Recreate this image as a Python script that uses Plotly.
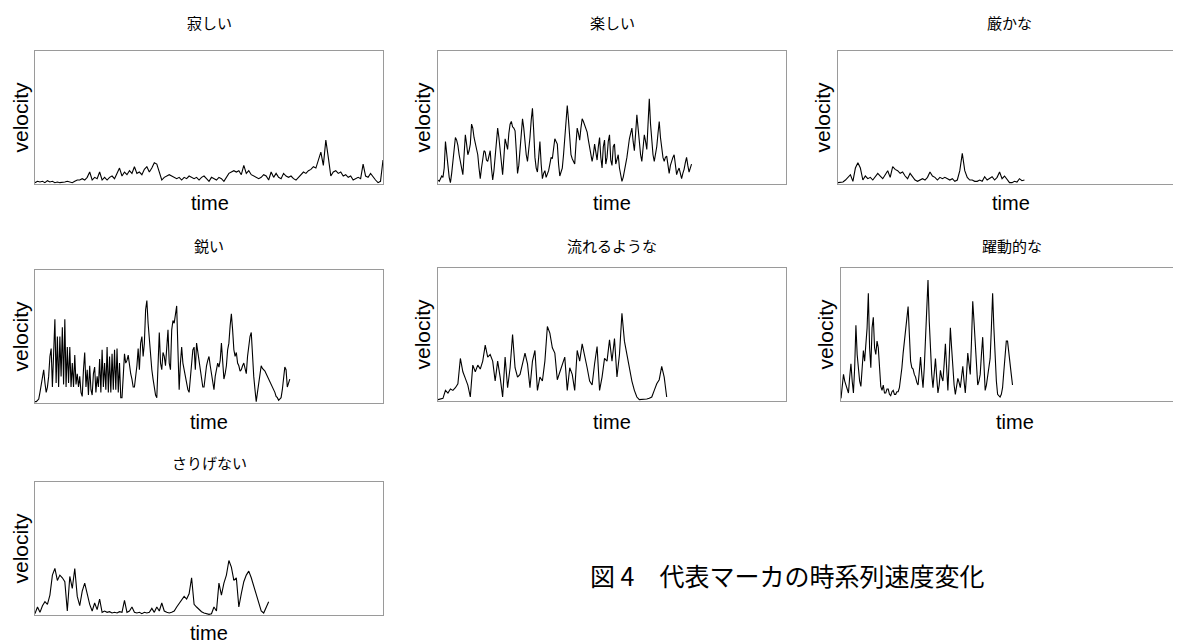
import plotly.graph_objects as go

# page offset of the plot inside the browser window (body margin)
OFF = 8
W, H = 1181 - OFF, 643 - OFF

titles = ["寂しい", "楽しい", "厳かな", "鋭い", "流れるような", "躍動的な", "さりげない"]
x_label = "time"
y_label = "velocity"
caption = "図 4　代表マーカの時系列速度変化"

# sampling step (time units) of each series
steps = [1, 0.5, 1, 0.5, 1, 0.5, 1]

v_sabishii = [1, 2, 1.5, 2, 1, 2.5, 1.5, 2, 1, 1.5, 1, 1, 1.5, 2, 1.5, 1, 2, 3,
              3, 4, 3, 5, 9, 3, 5, 4, 9, 3, 5, 3, 5,
              6, 4, 8, 12, 6, 9, 7, 10, 8, 13, 8, 9, 7,
              11, 13, 9, 12, 16, 15, 8, 3,
              5, 6, 7, 6, 5, 4, 5, 3, 5, 4, 6, 5, 4, 5, 3, 5, 6, 4, 2, 5, 4, 3, 5, 4, 2, 5,
              8, 9, 10, 9, 10, 7, 14, 8, 10, 7,
              6, 5, 4, 5, 7, 6, 3, 9, 5, 8, 5, 4, 8, 6, 5, 6, 4, 3, 5,
              7, 9, 8, 10, 11, 13, 12, 18, 24, 14, 33, 20, 6,
              9, 10, 8, 9, 6, 7, 5, 6, 3, 4, 5, 4, 15, 6, 5, 8, 5, 3, 1, 2, 18]

v_tanoshii = [3, 2, 4, 6, 5, 12, 32, 25, 14, 5, 1, 8, 18, 28, 35, 33, 29, 22, 18, 12,
              7, 20, 37, 30, 22, 25, 30, 45, 42, 35, 30, 26, 22, 12, 4, 12, 20, 25, 24, 18,
              17, 22, 25, 12, 3, 10, 20, 35, 42, 35, 25, 15, 7, 20, 34, 30, 26, 38, 45, 47,
              43, 42, 40, 25, 8, 14, 25, 40, 49, 42, 30, 22, 17, 25, 35, 48, 57, 40, 20, 12,
              9, 20, 32, 15, 4, 8, 10, 5, 7, 10, 15, 20, 19, 25, 34, 32, 30, 15, 6, 9,
              12, 22, 35, 50, 59, 48, 30, 22, 19, 17, 15, 30, 42, 38, 33, 42, 49, 47, 44, 42,
              39, 33, 28, 22, 17, 22, 30, 24, 18, 28, 35, 20, 12, 28, 33, 15, 20, 32, 37, 18,
              14, 28, 30, 15, 18, 22, 12, 6, 2, 5, 9, 15, 20, 28, 34, 38, 42, 32, 25, 38,
              52, 42, 30, 22, 17, 28, 37, 32, 26, 45, 64, 45, 30, 22, 17, 22, 28, 38, 47, 35,
              25, 20, 17, 20, 21, 14, 8, 14, 18, 20, 22, 14, 7, 10, 12, 8, 4, 8, 11, 16,
              20, 14, 9, 12, 15]

v_ogosoka = [1, 1, 1.5, 3, 5, 7, 2, 12, 16, 12, 3, 6, 4, 5, 3, 6, 8, 6, 4, 7,
             10, 5, 13, 11, 10, 8, 9, 6, 4, 8, 5, 3, 2, 3, 4, 3, 5, 9, 6, 5,
             3, 5, 4, 5, 4, 3, 4, 2, 3, 10, 23, 10, 5, 3, 3, 2, 2, 3, 2, 5.5,
             3, 4, 5.5, 3, 5, 9, 4, 6, 3, 1, 1, 2, 1.5, 4, 2.5, 3]

v_surudoi = [1, 1, 2, 3, 8, 14, 20, 25, 15, 8, 12, 20, 35, 41, 12, 45, 63, 15, 50, 12,
             50, 20, 57, 14, 63, 12, 42, 15, 42, 12, 30, 12, 36, 14, 22, 12, 20, 8, 5, 25,
             38, 12, 25, 6, 28, 10, 6, 22, 27, 8, 20, 12, 33, 8, 40, 12, 30, 10, 42, 8,
             35, 8, 37, 10, 40, 10, 41, 8, 30, 4, 4, 20, 37, 30, 32, 36, 28, 22, 18, 12,
             12, 20, 28, 41, 25, 45, 50, 35, 45, 70, 77, 60, 47, 35, 25, 18, 12, 6, 4, 30,
             53, 30, 25, 38, 35, 28, 45, 55, 30, 25, 55, 62, 60, 66, 73, 40, 10, 30, 42, 30,
             25, 18, 15, 10, 8, 20, 35, 40, 42, 25, 45, 38, 30, 22, 18, 12, 12, 22, 28, 32,
             35, 28, 22, 15, 10, 20, 25, 30, 27, 32, 45, 30, 18, 22, 28, 40, 45, 58, 67, 55,
             40, 35, 38, 30, 28, 24, 25, 28, 30, 26, 22, 35, 45, 50, 53, 35, 20, 10, 1, 8,
             15, 22, 28, 26, 25, 24, 22, 20, 18, 16, 15, 12, 10, 8, 5, 4, 2, 3, 4, 10,
             20, 27, 25, 12, 15, 18]

v_nagareru = [1, 1.5, 2, 8, 6, 9, 8, 10, 13, 32, 22, 17, 12, 3, 27, 22, 27, 24, 30, 42,
              33, 35, 30, 15, 30, 18, 3, 33, 10, 25, 50, 25, 18, 20, 27, 36, 28, 10, 30, 38,
              8, 18, 15, 30, 56, 51, 40, 36, 16, 22, 28, 33, 8, 25, 20, 8, 38, 30, 43, 35,
              25, 15, 12, 28, 41, 8, 18, 32, 30, 46, 30, 47, 18, 35, 66, 45, 35, 24, 15, 8,
              3, 1, 1, 1, 1.5, 2, 3, 8, 13, 16, 26, 18, 3]

v_yakudou = [2, 10, 20, 15, 12, 8, 6, 18, 28, 15, 6, 25, 57, 35, 23, 15, 11, 25, 38, 30,
             43, 55, 81, 40, 25, 55, 63, 40, 35, 45, 40, 25, 11, 8, 12, 6, 6, 9, 9, 5,
             4, 7, 8, 5, 5, 7, 7, 10, 16, 25, 36, 45, 55, 65, 71, 50, 30, 25, 24, 20,
             18, 14, 12, 22, 33, 20, 10, 25, 48, 70, 91, 60, 35, 20, 10, 20, 32, 18, 6, 12,
             23, 18, 15, 28, 43, 25, 8, 30, 55, 40, 25, 12, 5, 10, 17, 14, 10, 18, 26, 15,
             6, 20, 36, 28, 20, 45, 75, 60, 40, 25, 12, 15, 20, 35, 48, 28, 8, 12, 20, 28,
             32, 55, 81, 55, 30, 15, 5, 4, 3, 5, 10, 22, 35, 45, 45, 38, 28, 20, 12]

v_sarigenai = [1, 6, 2, 7, 10, 8, 15, 30, 35, 26, 30, 28, 25, 3, 29, 20, 35, 14, 7, 18,
               24, 15, 8, 3, 9, 4, 12, 2, 3, 2, 2.5, 1.5, 2, 1.5, 2.5, 2, 11, 2, 3, 6,
               2, 1.5, 2, 1, 2, 1.5, 2, 5, 2, 6, 3, 9, 3, 2, 1.5, 2, 3, 6, 9, 11,
               14, 12, 16, 28, 8, 6, 4, 2.5, 1.5, 1, 0.5, 1, 6, 3, 24, 15, 24, 30, 41, 36,
               26, 28, 6, 16, 25, 30, 33, 28, 22, 15, 9, 3, 1.5, 6, 10]

series = [v_sabishii, v_tanoshii, v_ogosoka, v_surudoi, v_nagareru, v_yakudou, v_sarigenai]

# panel boxes in window pixels: (left, top, right, bottom)
boxes = [
    (35, 51, 383, 184), (438, 51, 786, 184), (838, 51, 1181, 184),
    (35, 270, 383, 403), (438, 268, 786, 401), (841, 268, 1181, 401),
    (35, 482, 383, 615),
]
clipped = [False, False, True, False, False, True, False]
unit_px = 348 / 140.0
title_pos = [(209, 22), (612, 22), (1009, 22), (209, 245), (612, 245), (1012, 245), (209, 462)]
time_pos = [(210, 203), (612, 203), (1011, 203), (209, 422), (612, 422), (1015, 422), (209, 633)]
vel_x = [20, 422, 822, 20, 422, 825, 20]


def px(v):
    return (v - OFF) / W


def py(v):
    return 1 - (v - OFF) / H


fig = go.Figure()
layout = dict(width=W, height=H, margin=dict(l=0, r=0, t=0, b=0),
              paper_bgcolor="white", plot_bgcolor="white", showlegend=False)
annotations = []

for i, (vals, box) in enumerate(zip(series, boxes)):
    n = i + 1
    xa = "x" if n == 1 else f"x{n}"
    ya = "y" if n == 1 else f"y{n}"
    fig.add_trace(go.Scatter(x=[k * steps[i] for k in range(len(vals))], y=vals, mode="lines",
                             line=dict(color="black", width=1.1),
                             xaxis=xa, yaxis=ya, hoverinfo="skip"))
    l, t, r, b = box
    xr = (r - l) / unit_px
    layout["xaxis" if n == 1 else f"xaxis{n}"] = dict(
        domain=[max(px(l), 0), min(px(r), 1)], range=[0, xr], anchor=ya,
        showticklabels=False, ticks="", showgrid=False, zeroline=False,
        showline=True, linecolor="#9a9a9a", linewidth=1, mirror=True, fixedrange=True)
    layout["yaxis" if n == 1 else f"yaxis{n}"] = dict(
        domain=[py(b), py(t)], range=[0, 100], anchor=xa,
        showticklabels=False, ticks="", showgrid=False, zeroline=False,
        showline=True, linecolor="#9a9a9a", linewidth=1,
        mirror=(not clipped[i]), fixedrange=True)
    tx, ty = title_pos[i]
    annotations.append(dict(text=titles[i], x=px(tx), y=py(ty), xref="paper", yref="paper",
                            showarrow=False, xanchor="center", yanchor="middle",
                            font=dict(family="Noto Sans CJK JP", size=15, color="black")))
    mx, my = time_pos[i]
    annotations.append(dict(text=x_label, x=px(mx), y=py(my), xref="paper", yref="paper",
                            showarrow=False, xanchor="center", yanchor="middle",
                            font=dict(family="Liberation Sans", size=20, color="black")))
    annotations.append(dict(text=y_label, x=px(vel_x[i]), y=py((t + b) / 2),
                            xref="paper", yref="paper", textangle=-90,
                            showarrow=False, xanchor="center", yanchor="middle",
                            font=dict(family="Liberation Sans", size=21, color="black")))

annotations.append(dict(text=caption, x=px(588), y=py(575), xref="paper", yref="paper",
                        showarrow=False, xanchor="left", yanchor="middle",
                        font=dict(family="Noto Sans CJK JP", size=25, color="black")))
layout["annotations"] = annotations
fig.update_layout(**layout)
fig.write_html("out.html")
